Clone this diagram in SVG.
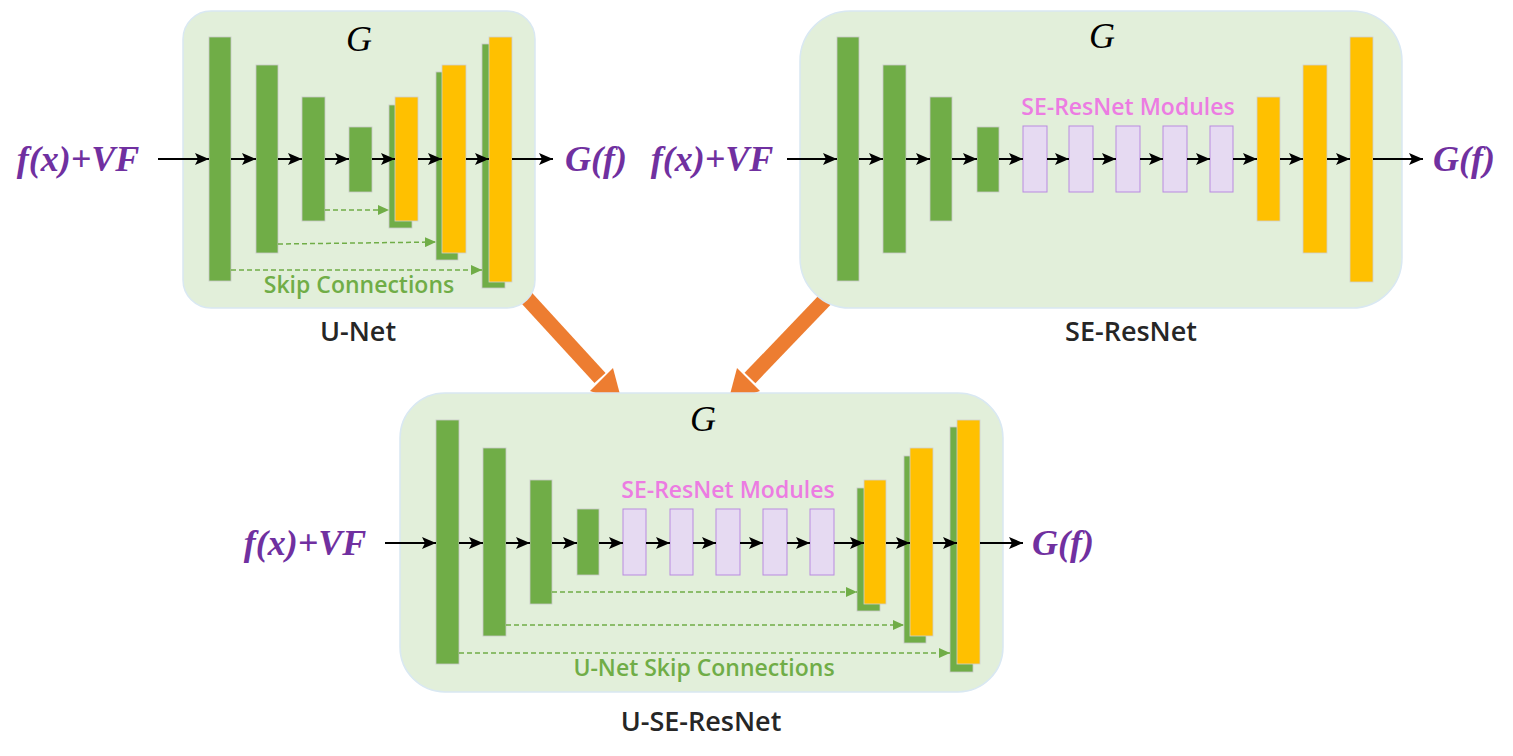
<svg xmlns="http://www.w3.org/2000/svg" width="1513" height="756" viewBox="0 0 1513 756">
<style>
.panel{fill:#E2EFDA;stroke:#D9E8F2;stroke-width:1.5}
.g{fill:#70AD47;stroke:#C8C8C8;stroke-width:0.8}
.y{fill:#FFC000;stroke:#D0D0D0;stroke-width:0.8}
.m{fill:#E6DAF2;stroke:#B98BE0;stroke-width:1}
.ar{stroke:#000;stroke-width:2;fill:none;marker-end:url(#ah)}
.sk{stroke:#70AD47;stroke-width:1.5;stroke-dasharray:5 3;fill:none;marker-end:url(#gh)}
.io{font-family:"Liberation Serif",serif;font-style:italic;font-weight:bold;font-size:36px;fill:#7030A0;text-anchor:middle}
.gt{font-family:"Liberation Serif",serif;font-style:italic;font-size:36px;fill:#000;text-anchor:middle}
.lbl{font-family:"Open Sans",sans-serif;font-weight:600;font-size:27px;fill:#262626;text-anchor:middle}
.skt{font-family:"Open Sans",sans-serif;font-weight:600;font-size:23px;fill:#70AD47;text-anchor:middle}
.mt{font-family:"Open Sans",sans-serif;font-weight:600;font-size:23px;fill:#EC7CE2;text-anchor:middle}
.oa{fill:#ED7D31}
</style>
<defs>
<marker id="ah" markerUnits="userSpaceOnUse" markerWidth="15" markerHeight="12" refX="14" refY="6" orient="auto">
<path d="M0,0 L14,6 L0,12 L3,6 Z" fill="#000"/>
</marker>
<marker id="gh" markerUnits="userSpaceOnUse" markerWidth="12" markerHeight="10" refX="11" refY="5" orient="auto">
<path d="M0,0 L11,5 L0,10 Z" fill="#70AD47"/>
</marker>
</defs>

<g id="merge-arrows">
<g id="arrow-unet">
<line x1="512" y1="282" x2="600" y2="378" stroke="#ED7D31" stroke-width="15"/>
<polygon class="oa" points="613,368 590,391 622,402"/>
</g>
<g id="arrow-seresnet">
<line x1="842" y1="282" x2="750" y2="378" stroke="#ED7D31" stroke-width="15"/>
<polygon class="oa" points="737,368 760,391 728,402"/>
</g>
</g>

<g id="unet">
<rect class="panel" x="183" y="11" width="352" height="297" rx="28"/>
<text class="gt" x="359" y="51">G</text>
<rect class="g" x="209" y="37" width="22" height="244"/>
<rect class="g" x="256" y="65" width="22" height="188"/>
<rect class="g" x="302" y="97" width="23" height="124"/>
<rect class="g" x="349" y="127" width="23" height="65"/>
<rect class="g" x="389" y="105" width="23" height="123"/>
<rect class="y" x="395" y="97" width="23" height="124"/>
<rect class="g" x="436" y="72" width="22" height="188"/>
<rect class="y" x="442" y="65" width="24" height="188"/>
<rect class="g" x="482" y="44" width="23" height="244"/>
<rect class="y" x="489" y="37" width="23" height="245"/>
<text class="skt" x="359" y="293">Skip Connections</text>
</g>

<g id="seresnet">
<rect class="panel" x="800" y="11" width="602" height="297" rx="50"/>
<text class="gt" x="1102" y="48">G</text>
<rect class="g" x="837" y="37" width="22" height="244"/>
<rect class="g" x="883" y="65" width="23" height="188"/>
<rect class="g" x="930" y="97" width="22" height="124"/>
<rect class="g" x="977" y="127" width="22" height="65"/>
<rect class="m" x="1023" y="126" width="24" height="66"/>
<rect class="m" x="1069" y="126" width="24" height="66"/>
<rect class="m" x="1116" y="126" width="24" height="66"/>
<rect class="m" x="1163" y="126" width="24" height="66"/>
<rect class="m" x="1210" y="126" width="23" height="66"/>
<rect class="y" x="1257" y="97" width="23" height="124"/>
<rect class="y" x="1303" y="65" width="24" height="188"/>
<rect class="y" x="1350" y="37" width="23" height="245"/>
<text class="mt" x="1128" y="115">SE-ResNet Modules</text>
</g>

<g id="useresnet">
<rect class="panel" x="400" y="393" width="603" height="299" rx="45"/>
<text class="gt" x="703" y="431">G</text>
<rect class="g" x="436" y="420" width="23" height="244"/>
<rect class="g" x="483" y="448" width="23" height="188"/>
<rect class="g" x="530" y="480" width="22" height="124"/>
<rect class="g" x="577" y="509" width="22" height="66"/>
<rect class="m" x="623" y="509" width="23" height="66"/>
<rect class="m" x="670" y="509" width="23" height="66"/>
<rect class="m" x="716" y="509" width="24" height="66"/>
<rect class="m" x="763" y="509" width="24" height="66"/>
<rect class="m" x="810" y="509" width="24" height="66"/>
<rect class="g" x="857" y="488" width="23" height="123"/>
<rect class="y" x="864" y="480" width="22" height="124"/>
<rect class="g" x="904" y="456" width="22" height="187"/>
<rect class="y" x="910" y="448" width="23" height="188"/>
<rect class="g" x="950" y="427" width="23" height="245"/>
<rect class="y" x="957" y="420" width="23" height="244"/>
<text class="mt" x="728" y="498">SE-ResNet Modules</text>
<text class="skt" x="704" y="676">U-Net Skip Connections</text>
</g>

<g id="connectors">
<line class="ar" x1="158" y1="159" x2="209" y2="159"/>
<line class="ar" x1="231" y1="159" x2="256" y2="159"/>
<line class="ar" x1="278" y1="159" x2="302" y2="159"/>
<line class="ar" x1="325" y1="159" x2="349" y2="159"/>
<line class="ar" x1="372" y1="159" x2="395" y2="159"/>
<line class="ar" x1="418" y1="159" x2="442" y2="159"/>
<line class="ar" x1="466" y1="159" x2="489" y2="159"/>
<line class="ar" x1="512" y1="159" x2="553" y2="159"/>
<line class="sk" x1="325" y1="210" x2="389" y2="210"/>
<line class="sk" x1="278" y1="244" x2="436" y2="242"/>
<line class="sk" x1="231" y1="270" x2="482" y2="270"/>

<line class="ar" x1="787" y1="159" x2="837" y2="159"/>
<line class="ar" x1="859" y1="159" x2="883" y2="159"/>
<line class="ar" x1="906" y1="159" x2="930" y2="159"/>
<line class="ar" x1="952" y1="159" x2="977" y2="159"/>
<line class="ar" x1="999" y1="159" x2="1023" y2="159"/>
<line class="ar" x1="1047" y1="159" x2="1069" y2="159"/>
<line class="ar" x1="1093" y1="159" x2="1116" y2="159"/>
<line class="ar" x1="1140" y1="159" x2="1163" y2="159"/>
<line class="ar" x1="1187" y1="159" x2="1210" y2="159"/>
<line class="ar" x1="1233" y1="159" x2="1257" y2="159"/>
<line class="ar" x1="1280" y1="159" x2="1303" y2="159"/>
<line class="ar" x1="1327" y1="159" x2="1350" y2="159"/>
<line class="ar" x1="1373" y1="159" x2="1423" y2="159"/>

<line class="ar" x1="385" y1="543" x2="436" y2="543"/>
<line class="ar" x1="459" y1="543" x2="483" y2="543"/>
<line class="ar" x1="506" y1="543" x2="530" y2="543"/>
<line class="ar" x1="552" y1="543" x2="577" y2="543"/>
<line class="ar" x1="599" y1="543" x2="623" y2="543"/>
<line class="ar" x1="646" y1="543" x2="670" y2="543"/>
<line class="ar" x1="693" y1="543" x2="716" y2="543"/>
<line class="ar" x1="740" y1="543" x2="763" y2="543"/>
<line class="ar" x1="787" y1="543" x2="810" y2="543"/>
<line class="ar" x1="834" y1="543" x2="864" y2="543"/>
<line class="ar" x1="886" y1="543" x2="910" y2="543"/>
<line class="ar" x1="933" y1="543" x2="957" y2="543"/>
<line class="ar" x1="980" y1="543" x2="1023" y2="543"/>
<line class="sk" x1="552" y1="592" x2="857" y2="592"/>
<line class="sk" x1="506" y1="625" x2="904" y2="625"/>
<line class="sk" x1="459" y1="653" x2="950" y2="653"/>
</g>

<g id="labels">
<text class="io" x="78" y="171">f(x)+VF</text>
<text class="io" x="596" y="171">G(f)</text>
<text class="io" x="712" y="171">f(x)+VF</text>
<text class="io" x="1464" y="171">G(f)</text>
<text class="io" x="305" y="555">f(x)+VF</text>
<text class="io" x="1063" y="555">G(f)</text>
<text class="lbl" x="358" y="341">U-Net</text>
<text class="lbl" x="1131" y="341">SE-ResNet</text>
<text class="lbl" x="701" y="731">U-SE-ResNet</text>
</g>
</svg>
